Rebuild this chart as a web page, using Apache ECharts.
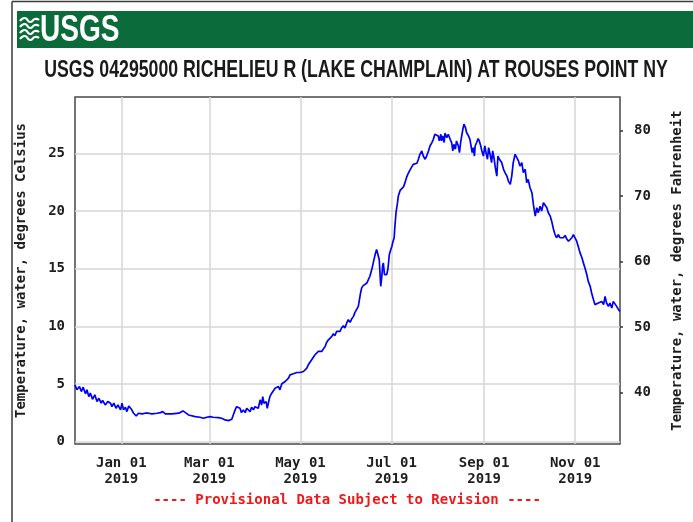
<!DOCTYPE html>
<html>
<head>
<meta charset="utf-8">
<script src="https://cdn.jsdelivr.net/npm/echarts@6/dist/echarts.min.js"></script>
<style>
  html, body { margin: 0; padding: 0; background: #ffffff; }
  #chart { width: 693px; height: 522px; }
</style>
</head>
<body>
<div id="chart"></div>
<script>
// Station and axis text
const stationTitle = 'USGS 04295000 RICHELIEU R (LAKE CHAMPLAIN) AT ROUSES POINT NY';
const leftAxisName = 'Temperature, water, degrees Celsius';
const rightAxisName = 'Temperature, water, degrees Fahrenheit';
const provisionalNote = '---- Provisional Data Subject to Revision ----';

// Tick values
const celsiusTicks = [0, 5, 10, 15, 20, 25];
const fahrenheitTicks = [40, 50, 60, 70, 80];
const monthTicks = ['2019-01-01', '2019-03-01', '2019-05-01', '2019-07-01', '2019-09-01', '2019-11-01'];
const monthNames = ['Jan', 'Feb', 'Mar', 'Apr', 'May', 'Jun', 'Jul', 'Aug', 'Sep', 'Oct', 'Nov', 'Dec'];
const periodStart = '2018-12-01';
const periodEnd = '2019-12-01';

// Reading times (UTC, "YYYY-MM-DD HH")
const readingTimes = [
  '2018-12-01 00','2018-12-02 06','2018-12-04 00','2018-12-05 06','2018-12-06 12','2018-12-08 00','2018-12-09 00','2018-12-10 06',
  '2018-12-11 06','2018-12-12 18','2018-12-14 06','2018-12-15 18','2018-12-17 00','2018-12-18 12','2018-12-19 12','2018-12-21 06',
  '2018-12-23 00','2018-12-24 18','2018-12-25 18','2018-12-27 00','2018-12-28 12','2018-12-29 18','2018-12-31 12',
  '2019-01-01 12','2019-01-02 12','2019-01-03 18','2019-01-04 18','2019-01-06 00','2019-01-07 18','2019-01-09 06','2019-01-11 00',
  '2019-01-12 12','2019-01-15 00','2019-01-17 00','2019-01-19 06','2019-01-21 12','2019-01-25 00','2019-01-27 06','2019-01-28 18',
  '2019-01-30 12','2019-02-04 00','2019-02-08 12','2019-02-11 06','2019-02-13 00','2019-02-15 00','2019-02-19 12','2019-02-22 18',
  '2019-02-25 00','2019-02-27 06',
  '2019-03-01 12','2019-03-03 12','2019-03-07 00','2019-03-09 06','2019-03-11 12','2019-03-13 18','2019-03-16 00','2019-03-17 00',
  '2019-03-18 06','2019-03-19 06','2019-03-20 12','2019-03-21 12','2019-03-22 12','2019-03-23 18','2019-03-25 00','2019-03-26 00',
  '2019-03-27 00','2019-03-28 06','2019-03-29 06','2019-03-30 12','2019-03-31 12',
  '2019-04-01 18','2019-04-02 18','2019-04-04 00','2019-04-05 00','2019-04-05 18','2019-04-06 12','2019-04-08 00','2019-04-08 18',
  '2019-04-09 12','2019-04-10 12','2019-04-11 18','2019-04-12 18','2019-04-14 00','2019-04-15 00','2019-04-16 06','2019-04-17 06',
  '2019-04-18 12','2019-04-19 12','2019-04-20 18','2019-04-21 18','2019-04-23 00','2019-04-24 00','2019-04-25 00','2019-04-26 06',
  '2019-04-27 12','2019-04-28 12','2019-04-29 12','2019-04-30 18',
  '2019-05-01 18','2019-05-03 00','2019-05-04 00','2019-05-05 06','2019-05-06 06','2019-05-07 12','2019-05-08 12','2019-05-09 12',
  '2019-05-10 18','2019-05-12 00','2019-05-13 00','2019-05-14 00','2019-05-15 06','2019-05-16 06','2019-05-17 12','2019-05-18 12',
  '2019-05-19 18','2019-05-20 18','2019-05-22 00','2019-05-23 00','2019-05-24 00','2019-05-25 06','2019-05-26 12','2019-05-27 12',
  '2019-05-28 12','2019-05-29 18','2019-05-30 18',
  '2019-06-01 00','2019-06-02 00','2019-06-03 06','2019-06-04 06','2019-06-05 12','2019-06-06 12','2019-06-07 18','2019-06-08 18',
  '2019-06-09 12','2019-06-10 06','2019-06-11 00','2019-06-12 00','2019-06-13 06','2019-06-14 12','2019-06-15 12','2019-06-16 12',
  '2019-06-17 18','2019-06-18 18','2019-06-20 00','2019-06-21 00','2019-06-22 06','2019-06-22 18','2019-06-23 18','2019-06-24 12',
  '2019-06-25 00','2019-06-25 12','2019-06-26 06','2019-06-27 00','2019-06-27 18','2019-06-28 12','2019-06-29 00','2019-06-29 12',
  '2019-06-30 12',
  '2019-07-01 06','2019-07-01 18','2019-07-02 18','2019-07-03 06','2019-07-04 00','2019-07-05 00','2019-07-05 12','2019-07-06 18',
  '2019-07-07 18','2019-07-09 00','2019-07-10 00','2019-07-11 06','2019-07-12 06','2019-07-13 12','2019-07-14 12','2019-07-15 12',
  '2019-07-16 18','2019-07-18 00','2019-07-19 00','2019-07-20 00','2019-07-21 06','2019-07-22 06','2019-07-23 12','2019-07-24 12',
  '2019-07-25 18','2019-07-26 18','2019-07-28 00','2019-07-29 00','2019-07-30 00','2019-07-31 06',
  '2019-08-01 06','2019-08-02 00','2019-08-03 00','2019-08-03 12','2019-08-04 06','2019-08-05 06','2019-08-05 18','2019-08-07 00',
  '2019-08-08 00','2019-08-09 06','2019-08-10 06','2019-08-11 00','2019-08-11 18','2019-08-12 18','2019-08-13 12','2019-08-14 18',
  '2019-08-15 12','2019-08-16 06','2019-08-17 00','2019-08-17 18','2019-08-18 12','2019-08-19 12','2019-08-20 06','2019-08-21 12',
  '2019-08-22 12','2019-08-23 06','2019-08-24 00','2019-08-24 18','2019-08-25 12','2019-08-26 00','2019-08-27 00','2019-08-28 00',
  '2019-08-28 18','2019-08-29 18','2019-08-30 12','2019-08-31 12',
  '2019-09-01 12','2019-09-02 06','2019-09-03 06','2019-09-04 00','2019-09-05 00','2019-09-06 00','2019-09-06 18','2019-09-07 18',
  '2019-09-08 12','2019-09-09 12','2019-09-10 06','2019-09-11 06','2019-09-12 18','2019-09-14 00','2019-09-15 00','2019-09-16 06',
  '2019-09-17 06','2019-09-18 12','2019-09-19 12','2019-09-20 12','2019-09-21 18','2019-09-22 18','2019-09-24 00','2019-09-25 00',
  '2019-09-26 06','2019-09-27 06','2019-09-28 12','2019-09-29 12','2019-09-30 12',
  '2019-10-01 18','2019-10-03 00','2019-10-04 00','2019-10-04 12','2019-10-05 06','2019-10-06 06','2019-10-07 06','2019-10-08 12',
  '2019-10-09 12','2019-10-10 18','2019-10-11 18','2019-10-13 00','2019-10-14 00','2019-10-15 06','2019-10-16 06','2019-10-17 12',
  '2019-10-18 12','2019-10-19 12','2019-10-20 18','2019-10-21 18','2019-10-23 00','2019-10-24 00','2019-10-25 06','2019-10-26 06',
  '2019-10-27 12','2019-10-28 12','2019-10-29 18','2019-10-30 18',
  '2019-11-01 00','2019-11-02 00','2019-11-03 00','2019-11-04 06','2019-11-05 12','2019-11-06 12','2019-11-07 12','2019-11-08 18',
  '2019-11-09 18','2019-11-11 00','2019-11-12 00','2019-11-13 06','2019-11-14 06','2019-11-15 12','2019-11-16 12','2019-11-17 12',
  '2019-11-18 18','2019-11-20 00','2019-11-21 00','2019-11-22 00','2019-11-23 06','2019-11-24 06','2019-11-25 12','2019-11-26 12',
  '2019-11-27 18','2019-11-28 18','2019-11-30 00','2019-12-01 00'
];

// Water temperature, degrees Celsius, one value per reading time
const waterTempC = [
  4.93,4.50,4.78,4.35,4.73,4.15,4.50,3.91,
  4.21,3.68,4.06,3.48,3.77,3.34,3.57,3.19,
  3.48,3.34,3.04,3.34,2.90,3.19,2.76,
  3.34,2.76,2.99,2.61,3.10,2.82,2.47,2.23,
  2.47,2.41,2.47,2.47,2.41,2.47,2.52,2.61,
  2.41,2.41,2.47,2.67,2.52,2.32,2.17,2.12,
  2.03,2.12,
  2.17,2.12,2.09,2.03,1.89,1.83,1.95,2.32,
  2.76,3.04,3.10,2.90,2.52,2.76,2.52,2.90,
  2.76,2.61,2.99,2.76,3.04,
  3.19,2.90,3.63,3.19,3.91,3.34,3.48,2.90,
  3.34,3.91,4.21,4.06,4.64,4.50,4.78,4.50,
  5.02,4.93,5.22,5.37,5.51,5.80,5.71,5.89,
  5.80,6.00,5.89,6.00,
  6.17,6.09,6.23,6.38,6.67,6.82,7.10,7.25,
  7.54,7.63,7.83,7.69,7.83,8.03,8.26,8.61,
  8.84,8.70,9.13,9.37,9.19,9.57,9.71,9.57,
  9.86,10.06,9.86,
  10.30,10.58,10.35,10.64,10.87,11.22,11.16,11.74,
  12.32,12.90,13.34,13.54,13.48,13.77,13.91,14.35,
  14.93,15.51,16.23,16.67,16.52,15.80,13.48,14.35,
  15.22,15.51,14.50,14.35,14.50,14.93,15.51,16.23,
  16.67,
  16.96,17.25,17.69,18.70,19.86,20.73,21.30,21.80,
  21.90,22.10,22.47,23.00,23.30,23.60,23.70,24.06,
  24.10,24.15,24.50,24.93,25.22,24.78,24.50,24.78,
  25.22,25.65,25.95,26.23,26.67,26.82,
  26.52,26.09,26.67,26.09,26.52,25.95,26.76,26.38,
  26.67,26.23,25.95,25.22,25.80,25.37,26.09,25.65,
  25.08,25.95,26.52,27.10,27.54,27.25,26.82,26.52,
  26.23,25.65,25.08,25.51,24.78,25.65,25.95,26.30,
  26.09,25.65,25.22,24.78,
  25.65,25.08,24.50,25.51,24.93,24.21,25.22,24.50,
  23.77,23.04,24.78,24.50,24.21,23.63,23.34,23.04,
  22.61,22.32,23.04,24.21,24.93,24.78,24.35,23.91,
  24.21,23.34,23.63,22.47,22.76,
  22.03,21.60,20.58,20.15,19.57,20.30,19.86,20.43,
  20.00,20.73,20.58,20.30,19.86,19.57,19.13,18.41,
  17.97,17.69,17.97,17.69,17.83,17.69,17.89,17.60,
  17.39,17.54,17.69,17.97,
  17.83,17.39,16.96,16.38,15.95,15.51,15.08,14.50,
  13.91,13.48,12.90,12.32,11.89,11.74,12.03,11.89,
  12.17,11.89,12.61,12.03,11.74,12.03,11.60,12.17,
  12.03,11.74,11.45,11.30
];

// "YYYY-MM-DD" or "YYYY-MM-DD HH" -> UTC milliseconds
function toUtc(s) {
  const [datePart, hourPart] = s.split(' ');
  const [y, m, d] = datePart.split('-').map(Number);
  return Date.UTC(y, m - 1, d, hourPart ? Number(hourPart) : 0);
}

const seriesData = readingTimes.map((t, i) => [toUtc(t), waterTempC[i]]);
const monthTickValues = monthTicks.map(toUtc);

const monoFont = 'DejaVu Sans Mono';
const labelStyle = { fontFamily: monoFont, fontWeight: 'bold', fontSize: 14, color: '#1e1e1e' };

// one wavy stroke of the emblem
function wave(dy) {
  return {
    type: 'polyline',
    shape: { points: [[0, dy + 3], [5, dy], [10, dy + 4], [15, dy + 1], [19, dy + 2]], smooth: 0.6 },
    style: { stroke: '#ffffff', fill: null, lineWidth: 2.2 }
  };
}

const chart = echarts.init(document.getElementById('chart'), null, { renderer: 'canvas' });

chart.setOption({
  animation: false,
  backgroundColor: '#ffffff',
  grid: {
    left: 75, right: 73, top: 97, bottom: 78,
    show: true, borderColor: '#474747', borderWidth: 1.5, backgroundColor: 'transparent'
  },
  // time runs along a numeric (millisecond) axis so month ticks can be placed exactly
  xAxis: {
    type: 'value',
    min: toUtc(periodStart),
    max: toUtc(periodEnd),
    axisLine: { show: false },
    axisTick: { show: false, customValues: monthTickValues },
    splitLine: { show: true, lineStyle: { color: '#d6d6d6', width: 1.5 } },
    axisLabel: {
      customValues: monthTickValues,
      margin: 11,
      lineHeight: 16,
      hideOverlap: false,
      ...labelStyle,
      formatter: function (v) {
        const d = new Date(v);
        const day = String(d.getUTCDate()).padStart(2, '0');
        return monthNames[d.getUTCMonth()] + ' ' + day + '\n' + d.getUTCFullYear();
      }
    }
  },
  yAxis: [
    {
      type: 'value',
      position: 'left',
      min: -0.2,
      max: 29.9,
      axisLine: { show: false },
      axisTick: { show: false, customValues: celsiusTicks },
      splitLine: { show: true, lineStyle: { color: '#d6d6d6', width: 1.5 } },
      axisLabel: { customValues: celsiusTicks, margin: 10, ...labelStyle },
      name: leftAxisName,
      nameLocation: 'middle',
      nameRotate: 90,
      nameGap: 47,
      nameTextStyle: { ...labelStyle }
    },
    {
      type: 'value',
      position: 'right',
      min: 32.2,
      max: 85.1,
      axisLine: { show: false },
      axisTick: { show: true, customValues: fahrenheitTicks, length: 3, lineStyle: { color: '#333', width: 1.5 } },
      splitLine: { show: false },
      axisLabel: { customValues: fahrenheitTicks, margin: 14, ...labelStyle },
      name: rightAxisName,
      nameLocation: 'middle',
      nameRotate: 90,
      nameGap: 50,
      nameTextStyle: { ...labelStyle }
    }
  ],
  series: [
    {
      type: 'line',
      yAxisIndex: 0,
      data: seriesData,
      showSymbol: false,
      lineStyle: { color: '#0000f5', width: 1.7 },
      z: 3
    }
  ],
  graphic: [
    // page frame
    { type: 'line', shape: { x1: 12, y1: 1.5, x2: 693, y2: 1.5 }, style: { stroke: '#3a3a3a', lineWidth: 1.5 } },
    { type: 'line', shape: { x1: 12, y1: 1.5, x2: 12, y2: 522 }, style: { stroke: '#3a3a3a', lineWidth: 1.5 } },
    // header bar
    { type: 'rect', shape: { x: 17, y: 11, width: 676, height: 37 }, style: { fill: '#0b6b3a' } },
    // wave emblem
    { type: 'group', x: 20, y: 18, children: [wave(0), wave(6), wave(12), wave(18)] },
    {
      type: 'text', x: 40, y: 31, scaleX: 0.78,
      style: {
        text: 'USGS', fill: '#ffffff', font: 'bold 36px "Liberation Sans Narrow", "Liberation Sans", sans-serif',
        verticalAlign: 'middle'
      }
    },
    // station title, condensed
    {
      type: 'text', x: 356, y: 71, scaleX: 0.77,
      style: {
        text: stationTitle, fill: '#1a1a1a', font: 'bold 23px "Liberation Sans Narrow", "Liberation Sans", sans-serif',
        align: 'center', verticalAlign: 'middle'
      }
    },
    // provisional note
    {
      type: 'text', x: 347, y: 500,
      style: {
        text: provisionalNote, fill: '#f01818', font: 'bold 14px "DejaVu Sans Mono", monospace',
        align: 'center', verticalAlign: 'middle'
      }
    }
  ]
});
</script>
</body>
</html>
